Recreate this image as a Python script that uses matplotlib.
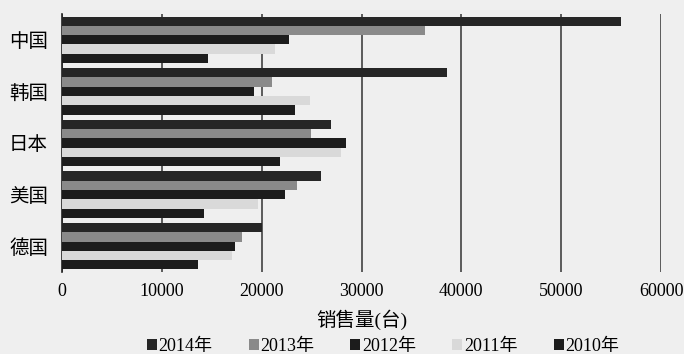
import matplotlib
matplotlib.use("Agg")
import matplotlib.pyplot as plt
import numpy as np
from matplotlib.patches import Patch

plt.rcParams['font.family'] = ['Liberation Serif', 'Noto Sans CJK SC', 'DejaVu Sans']

categories = ['中国', '韩国', '日本', '美国', '德国']
series_names = ['2014年', '2013年', '2012年', '2011年', '2010年']
v2014 = [56000, 38600, 26900, 25900, 20000]
v2013 = [36400, 21000, 24900, 23500, 18000]
v2012 = [22700, 19200, 28400, 22300, 17300]
v2011 = [21300, 24800, 27900, 19600, 17000]
v2010 = [14600, 23300, 21800, 14200, 13600]
values = [v2014, v2013, v2012, v2011, v2010]
colors = ['#262626', '#8a8a8a', '#1c1c1c', '#d9d9d9', '#1c1c1c']
xticks = [0, 10000, 20000, 30000, 40000, 50000, 60000]

fig = plt.figure(figsize=(6.84, 3.54), dpi=100)
fig.patch.set_facecolor('#efefef')
ax = fig.add_axes([62/684, (354-272)/354, (661-62)/684, (272-14)/354])
ax.set_facecolor('#efefef')

y = np.arange(len(categories))
h = 0.18
for j, (name, vals, c) in enumerate(zip(series_names, values, colors)):
    ax.barh(y + (j - 2) * h, vals, height=h, color=c, label=name, zorder=3)

ax.set_ylim(4.5, -0.5)
ax.set_xlim(0, 60000)
ax.set_xticks(xticks)
ax.set_xticklabels([str(t) for t in xticks], fontsize=13)
ax.set_yticks(y)
ax.set_yticklabels(categories, fontsize=14)
ax.tick_params(axis='y', length=0, pad=10)
ax.tick_params(axis='x', length=0, pad=8)
ax.grid(axis='x', color='#333333', linewidth=1.1, zorder=1)
for s in ['top', 'right', 'bottom']:
    ax.spines[s].set_visible(False)
ax.spines['left'].set_color('#222222')
ax.spines['left'].set_linewidth(1.2)
ax.set_xlabel('销售量(台)', fontsize=14, labelpad=7)

handles = [Patch(facecolor=c, edgecolor='none') for c in colors]
fig.legend(handles, series_names, loc='center', bbox_to_anchor=(0.56, 0.022), ncol=5,
           frameon=False, fontsize=13, handlelength=0.55, handleheight=0.55,
           handletextpad=0.1, columnspacing=2.0)

fig.savefig('out.png', dpi=100, facecolor=fig.get_facecolor())
